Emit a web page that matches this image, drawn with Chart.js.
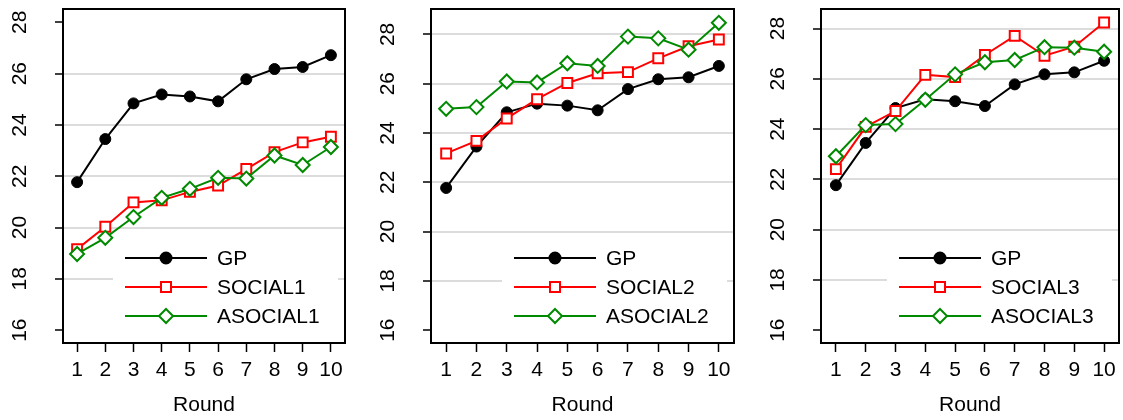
<!DOCTYPE html>
<html>
<head>
<meta charset="utf-8">
<script src="https://cdn.jsdelivr.net/npm/chart.js@4.4.1/dist/chart.umd.min.js"></script>
<style>
  html, body { margin: 0; padding: 0; background: #fff; overflow: hidden; }
  body { width: 1123px; height: 420px; position: relative; }
  .panel { position: absolute; top: 0; height: 420px; }
</style>
</head>
<body>
<div class="panel" style="left:0px"><canvas id="p1" width="370" height="420"></canvas></div>
<div class="panel" style="left:370px"><canvas id="p2" width="378" height="420"></canvas></div>
<div class="panel" style="left:748px"><canvas id="p3" width="380" height="420"></canvas></div>
<script>
// rounds on the x axis
const rounds = ["1", "2", "3", "4", "5", "6", "7", "8", "9", "10"];
const yTickLabels = [16, 18, 20, 22, 24, 26, 28];

// GP is the same in every panel
const gp = [21.77, 23.45, 24.84, 25.19, 25.11, 24.92, 25.78, 26.18, 26.26, 26.72];

const social1 = [19.16, 20.03, 20.98, 21.06, 21.39, 21.64, 22.28, 22.94, 23.32, 23.54];
const asocial1 = [18.97, 19.60, 20.41, 21.16, 21.51, 21.94, 21.91, 22.81, 22.44, 23.14];

const social2 = [23.17, 23.68, 24.59, 25.37, 26.03, 26.42, 26.47, 27.03, 27.52, 27.79];
const asocial2 = [24.98, 25.05, 26.09, 26.05, 26.83, 26.72, 27.91, 27.84, 27.38, 28.47];

const social3 = [22.41, 24.09, 24.72, 26.16, 26.07, 26.95, 27.71, 26.92, 27.28, 28.24];
const asocial3 = [22.92, 24.16, 24.20, 25.17, 26.18, 26.66, 26.75, 27.26, 27.24, 27.08];

// horizontal reference lines drawn in each panel
const grid1 = [18, 20, 22, 24, 26];
const grid2 = [18, 20, 22, 24, 26, 28];
const grid3 = [18, 20, 22, 24, 26, 28];

const FONT = '"Liberation Sans", Arial, Helvetica, sans-serif';
const RED = "#ff0000";
const GREEN = "#008a00";

const panels = [
  { id: "p1", n: 1, social: social1, asocial: asocial1, grid: grid1, yMin: 15.5, yMax: 28.52, yWidth: 63, padRight: 25 },
  { id: "p2", n: 2, social: social2, asocial: asocial2, grid: grid2, yMin: 15.48, yMax: 29.03, yWidth: 61, padRight: 14 },
  { id: "p3", n: 3, social: social3, asocial: asocial3, grid: grid3, yMin: 15.49, yMax: 28.78, yWidth: 73, padRight: 3 }
];

function marker(ctx, style, x, y, color) {
  ctx.save();
  ctx.lineWidth = 2;
  ctx.strokeStyle = color;
  ctx.fillStyle = style === "circle" ? color : "#fff";
  ctx.beginPath();
  if (style === "circle") {
    ctx.arc(x, y, 5.5, 0, Math.PI * 2);
  } else if (style === "rect") {
    ctx.rect(x - 5, y - 5, 10, 10);
  } else {
    ctx.moveTo(x, y - 7); ctx.lineTo(x + 7, y); ctx.lineTo(x, y + 7); ctx.lineTo(x - 7, y); ctx.closePath();
  }
  ctx.fill();
  ctx.stroke();
  ctx.restore();
}

const panelDecor = {
  id: "panelDecor",
  afterDatasetsDraw(chart, args, opts) {
    const { ctx, chartArea } = chart;
    const textX = chartArea.right - 128;
    const lineX0 = textX - 92;
    const boxLeft = lineX0 - 12;
    const boxRight = chartArea.right - 7;
    const rowY = [chartArea.bottom - 85, chartArea.bottom - 56, chartArea.bottom - 27];
    ctx.save();
    ctx.fillStyle = "#fff";
    ctx.fillRect(boxLeft, rowY[0] - 20, boxRight - boxLeft, rowY[2] - rowY[0] + 40);
    ctx.font = "21px " + FONT;
    ctx.textBaseline = "middle";
    ctx.textAlign = "left";
    opts.items.forEach((it, i) => {
      const y = rowY[i];
      ctx.strokeStyle = it.color;
      ctx.lineWidth = 2;
      ctx.beginPath();
      ctx.moveTo(lineX0, y);
      ctx.lineTo(lineX0 + 82, y);
      ctx.stroke();
      marker(ctx, it.style, lineX0 + 41, y, it.color);
      ctx.fillStyle = "#000";
      ctx.fillText(it.label, textX, y + 1);
    });
    ctx.restore();
  },
  afterDraw(chart) {
    const { ctx, chartArea } = chart;
    const yScale = chart.scales.y;
    ctx.save();
    ctx.strokeStyle = "#000";
    ctx.lineWidth = 2;
    ctx.strokeRect(chartArea.left, chartArea.top, chartArea.right - chartArea.left, chartArea.bottom - chartArea.top);
    ctx.fillStyle = "#000";
    ctx.font = "21px " + FONT;
    ctx.textAlign = "center";
    ctx.textBaseline = "middle";
    yTickLabels.forEach((v) => {
      const y = yScale.getPixelForValue(v);
      ctx.save();
      ctx.translate(chartArea.left - 43, y);
      ctx.rotate(-Math.PI / 2);
      ctx.fillText(String(v), 0, 0);
      ctx.restore();
    });
    ctx.restore();
  }
};

panels.forEach((p) => {
  const canvas = document.getElementById(p.id);
  const items = [
    { label: "GP", color: "#000", style: "circle" },
    { label: "SOCIAL" + p.n, color: RED, style: "rect" },
    { label: "ASOCIAL" + p.n, color: GREEN, style: "rectRot" }
  ];
  new Chart(canvas, {
    type: "line",
    data: {
      labels: rounds,
      datasets: [
        {
          label: "GP", data: gp, order: 3,
          borderColor: "#000", backgroundColor: "#000", borderWidth: 2,
          pointStyle: "circle", pointRadius: 5.5, pointBorderWidth: 1,
          pointBackgroundColor: "#000", pointBorderColor: "#000", tension: 0
        },
        {
          label: "SOCIAL" + p.n, data: p.social, order: 2,
          borderColor: RED, borderWidth: 2,
          pointStyle: "rect", pointRadius: 7, pointBorderWidth: 2,
          pointBackgroundColor: "#fff", pointBorderColor: RED, tension: 0
        },
        {
          label: "ASOCIAL" + p.n, data: p.asocial, order: 1,
          borderColor: GREEN, borderWidth: 2,
          pointStyle: "rectRot", pointRadius: 7, pointBorderWidth: 2,
          pointBackgroundColor: "#fff", pointBorderColor: GREEN, tension: 0
        }
      ]
    },
    options: {
      responsive: false,
      animation: false,
      devicePixelRatio: 1,
      layout: { padding: { left: 0, right: p.padRight, top: 6, bottom: 0 } },
      plugins: {
        legend: { display: false },
        tooltip: { enabled: false },
        panelDecor: { items: items }
      },
      scales: {
        x: {
          type: "category",
          offset: true,
          border: { display: false },
          grid: { drawOnChartArea: false, drawTicks: true, tickLength: 9, tickColor: "#000", tickWidth: 1.5, offset: false },
          ticks: { color: "#000", font: { family: FONT, size: 21 }, padding: 6, maxRotation: 0, autoSkip: false },
          title: { display: true, text: "Round", color: "#000", font: { family: FONT, size: 21 }, padding: { top: 0, bottom: 2 } },
          afterFit: (s) => { s.height = 77; }
        },
        y: {
          type: "linear",
          min: p.yMin,
          max: p.yMax,
          border: { display: false },
          ticks: { display: false, stepSize: 2, includeBounds: false },
          grid: {
            color: (c) => (c.tick && p.grid.includes(c.tick.value) ? "#dcdcdc" : "rgba(0,0,0,0)"),
            lineWidth: 2,
            drawTicks: true,
            tickLength: 8,
            tickColor: "#000",
            tickWidth: 1.5
          },
          afterFit: (s) => { s.width = p.yWidth; }
        }
      }
    },
    plugins: [panelDecor]
  });
});
</script>
</body>
</html>
